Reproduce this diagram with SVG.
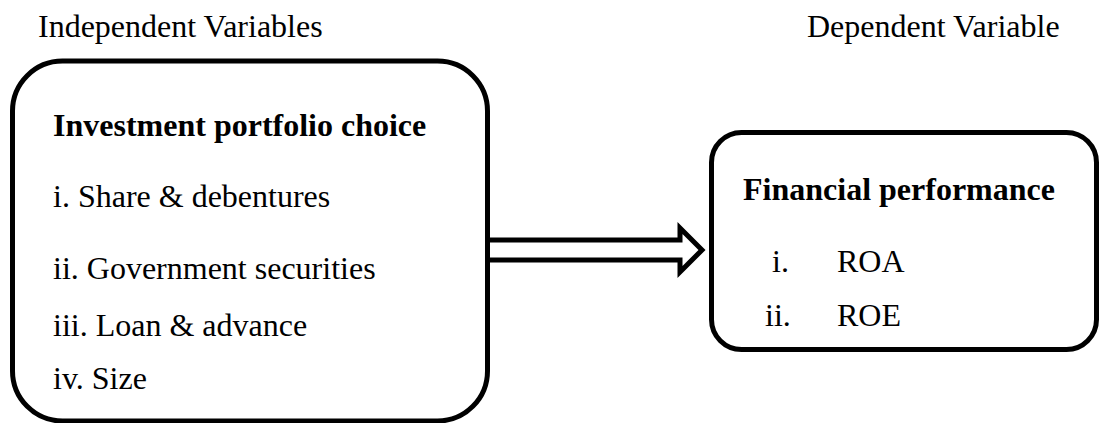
<svg xmlns="http://www.w3.org/2000/svg" width="1099" height="423" viewBox="0 0 1099 423">
<style>
.t{font-family:"Liberation Serif","Times New Roman",serif;font-size:32px;fill:#000}
.b{font-weight:bold}
.box{fill:#fff;stroke:#000;stroke-width:5}
</style>
<rect width="1099" height="423" fill="#fff"/>
<g id="headers">
<text class="t" x="38" y="37">Independent Variables</text>
<text class="t" x="807" y="37">Dependent Variable</text>
</g>
<g id="independent">
<rect class="box" x="12.5" y="61" width="475" height="360" rx="50" ry="50"/>
<text class="t b" x="53" y="136">Investment portfolio choice</text>
<text class="t" x="53" y="207">i. Share &amp; debentures</text>
<text class="t" x="53" y="279">ii. Government securities</text>
<text class="t" x="53" y="336">iii. Loan &amp; advance</text>
<text class="t" x="53" y="389">iv. Size</text>
</g>
<g id="dependent">
<rect class="box" x="711.5" y="132.5" width="385" height="217" rx="30" ry="30"/>
<text class="t b" x="743" y="200">Financial performance</text>
<text class="t" x="772" y="272">i.</text>
<text class="t" x="837" y="272">ROA</text>
<text class="t" x="765" y="326">ii.</text>
<text class="t" x="837" y="326">ROE</text>
</g>
<g id="connectors">
<path d="M490,240 H680 V228 L702,250 L680,272 V260 H490" fill="#fff" stroke="#000" stroke-width="5" stroke-linejoin="miter"/>
</g>
</svg>
